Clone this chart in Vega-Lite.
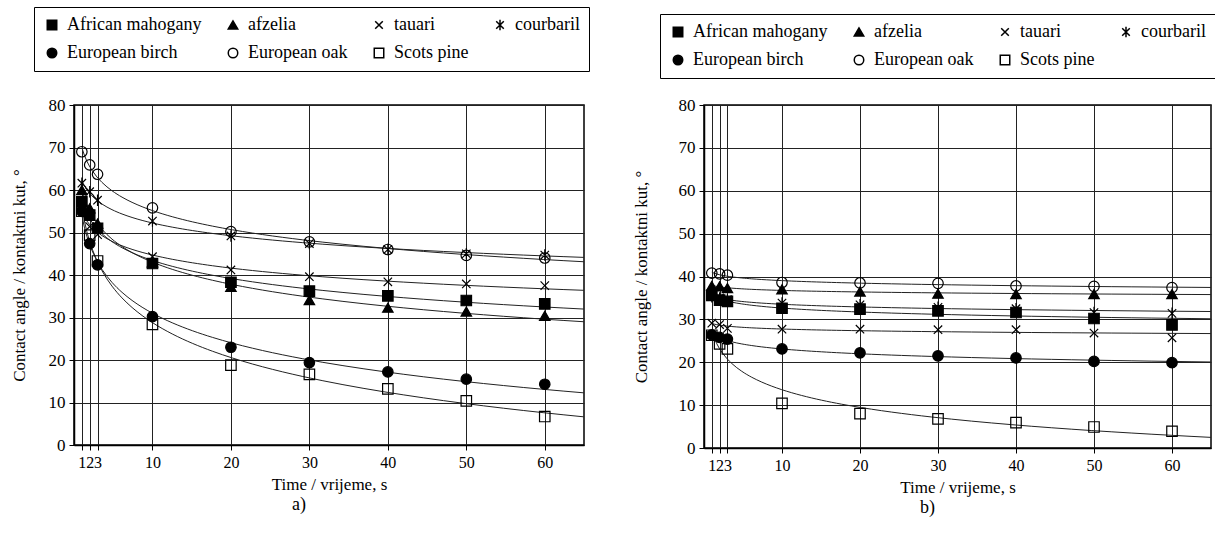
{
  "$schema": "https://vega.github.io/schema/vega-lite/v6.json",
  "padding": {"left": 9, "top": 5, "right": 2, "bottom": 5},
  "background": "white",
  "spacing": 40,
  "resolve": {"scale": {"shape": "independent", "fill": "independent"}, "legend": {"shape": "independent", "fill": "independent"}},
  "datasets": {
    "d": [
      {"panel": "a", "series": "African mahogany", "t": 1, "angle": 57.2},
      {"panel": "a", "series": "African mahogany", "t": 2, "angle": 54.1},
      {"panel": "a", "series": "African mahogany", "t": 3, "angle": 51.0},
      {"panel": "a", "series": "African mahogany", "t": 10, "angle": 42.7},
      {"panel": "a", "series": "African mahogany", "t": 20, "angle": 38.3},
      {"panel": "a", "series": "African mahogany", "t": 30, "angle": 36.2},
      {"panel": "a", "series": "African mahogany", "t": 40, "angle": 35.1},
      {"panel": "a", "series": "African mahogany", "t": 50, "angle": 34.0},
      {"panel": "a", "series": "African mahogany", "t": 60, "angle": 33.2},
      {"panel": "a", "series": "afzelia", "t": 1, "angle": 60.0},
      {"panel": "a", "series": "afzelia", "t": 2, "angle": 55.7},
      {"panel": "a", "series": "afzelia", "t": 3, "angle": 52.1},
      {"panel": "a", "series": "afzelia", "t": 10, "angle": 43.0},
      {"panel": "a", "series": "afzelia", "t": 20, "angle": 37.2},
      {"panel": "a", "series": "afzelia", "t": 30, "angle": 34.1},
      {"panel": "a", "series": "afzelia", "t": 40, "angle": 32.3},
      {"panel": "a", "series": "afzelia", "t": 50, "angle": 31.4},
      {"panel": "a", "series": "afzelia", "t": 60, "angle": 30.4},
      {"panel": "a", "series": "tauari", "t": 1, "angle": 56.0},
      {"panel": "a", "series": "tauari", "t": 2, "angle": 51.4},
      {"panel": "a", "series": "tauari", "t": 3, "angle": 49.5},
      {"panel": "a", "series": "tauari", "t": 10, "angle": 44.3},
      {"panel": "a", "series": "tauari", "t": 20, "angle": 41.2},
      {"panel": "a", "series": "tauari", "t": 30, "angle": 39.6},
      {"panel": "a", "series": "tauari", "t": 40, "angle": 38.4},
      {"panel": "a", "series": "tauari", "t": 50, "angle": 37.9},
      {"panel": "a", "series": "tauari", "t": 60, "angle": 37.5},
      {"panel": "a", "series": "courbaril", "t": 1, "angle": 61.6},
      {"panel": "a", "series": "courbaril", "t": 2, "angle": 59.6},
      {"panel": "a", "series": "courbaril", "t": 3, "angle": 57.6},
      {"panel": "a", "series": "courbaril", "t": 10, "angle": 52.7},
      {"panel": "a", "series": "courbaril", "t": 20, "angle": 49.2},
      {"panel": "a", "series": "courbaril", "t": 30, "angle": 47.4},
      {"panel": "a", "series": "courbaril", "t": 40, "angle": 46.0},
      {"panel": "a", "series": "courbaril", "t": 50, "angle": 45.0},
      {"panel": "a", "series": "courbaril", "t": 60, "angle": 44.7},
      {"panel": "a", "series": "European birch", "t": 1, "angle": 55.0},
      {"panel": "a", "series": "European birch", "t": 2, "angle": 47.4},
      {"panel": "a", "series": "European birch", "t": 3, "angle": 42.4},
      {"panel": "a", "series": "European birch", "t": 10, "angle": 30.2},
      {"panel": "a", "series": "European birch", "t": 20, "angle": 23.0},
      {"panel": "a", "series": "European birch", "t": 30, "angle": 19.4},
      {"panel": "a", "series": "European birch", "t": 40, "angle": 17.2},
      {"panel": "a", "series": "European birch", "t": 50, "angle": 15.5},
      {"panel": "a", "series": "European birch", "t": 60, "angle": 14.3},
      {"panel": "a", "series": "European oak", "t": 1, "angle": 69.0},
      {"panel": "a", "series": "European oak", "t": 2, "angle": 65.9},
      {"panel": "a", "series": "European oak", "t": 3, "angle": 63.7},
      {"panel": "a", "series": "European oak", "t": 10, "angle": 55.8},
      {"panel": "a", "series": "European oak", "t": 20, "angle": 50.2},
      {"panel": "a", "series": "European oak", "t": 30, "angle": 47.8},
      {"panel": "a", "series": "European oak", "t": 40, "angle": 46.0},
      {"panel": "a", "series": "European oak", "t": 50, "angle": 44.6},
      {"panel": "a", "series": "European oak", "t": 60, "angle": 44.0},
      {"panel": "a", "series": "Scots pine", "t": 1, "angle": 55.0},
      {"panel": "a", "series": "Scots pine", "t": 2, "angle": 49.4},
      {"panel": "a", "series": "Scots pine", "t": 3, "angle": 43.3},
      {"panel": "a", "series": "Scots pine", "t": 10, "angle": 28.4},
      {"panel": "a", "series": "Scots pine", "t": 20, "angle": 18.8},
      {"panel": "a", "series": "Scots pine", "t": 30, "angle": 16.6},
      {"panel": "a", "series": "Scots pine", "t": 40, "angle": 13.2},
      {"panel": "a", "series": "Scots pine", "t": 50, "angle": 10.4},
      {"panel": "a", "series": "Scots pine", "t": 60, "angle": 6.7},
      {"panel": "b", "series": "African mahogany", "t": 1, "angle": 35.6},
      {"panel": "b", "series": "African mahogany", "t": 2, "angle": 34.5},
      {"panel": "b", "series": "African mahogany", "t": 3, "angle": 34.2},
      {"panel": "b", "series": "African mahogany", "t": 10, "angle": 32.6},
      {"panel": "b", "series": "African mahogany", "t": 20, "angle": 32.4},
      {"panel": "b", "series": "African mahogany", "t": 30, "angle": 32.0},
      {"panel": "b", "series": "African mahogany", "t": 40, "angle": 31.6},
      {"panel": "b", "series": "African mahogany", "t": 50, "angle": 30.2},
      {"panel": "b", "series": "African mahogany", "t": 60, "angle": 28.7},
      {"panel": "b", "series": "afzelia", "t": 1, "angle": 37.8},
      {"panel": "b", "series": "afzelia", "t": 2, "angle": 37.7},
      {"panel": "b", "series": "afzelia", "t": 3, "angle": 37.3},
      {"panel": "b", "series": "afzelia", "t": 10, "angle": 37.0},
      {"panel": "b", "series": "afzelia", "t": 20, "angle": 36.5},
      {"panel": "b", "series": "afzelia", "t": 30, "angle": 36.0},
      {"panel": "b", "series": "afzelia", "t": 40, "angle": 35.9},
      {"panel": "b", "series": "afzelia", "t": 50, "angle": 35.9},
      {"panel": "b", "series": "afzelia", "t": 60, "angle": 35.9},
      {"panel": "b", "series": "tauari", "t": 1, "angle": 29.1},
      {"panel": "b", "series": "tauari", "t": 2, "angle": 28.8},
      {"panel": "b", "series": "tauari", "t": 3, "angle": 27.9},
      {"panel": "b", "series": "tauari", "t": 10, "angle": 27.7},
      {"panel": "b", "series": "tauari", "t": 20, "angle": 27.7},
      {"panel": "b", "series": "tauari", "t": 30, "angle": 27.6},
      {"panel": "b", "series": "tauari", "t": 40, "angle": 27.6},
      {"panel": "b", "series": "tauari", "t": 50, "angle": 26.8},
      {"panel": "b", "series": "tauari", "t": 60, "angle": 25.7},
      {"panel": "b", "series": "courbaril", "t": 1, "angle": 35.3},
      {"panel": "b", "series": "courbaril", "t": 2, "angle": 35.0},
      {"panel": "b", "series": "courbaril", "t": 3, "angle": 34.6},
      {"panel": "b", "series": "courbaril", "t": 10, "angle": 33.8},
      {"panel": "b", "series": "courbaril", "t": 20, "angle": 33.4},
      {"panel": "b", "series": "courbaril", "t": 30, "angle": 32.8},
      {"panel": "b", "series": "courbaril", "t": 40, "angle": 32.5},
      {"panel": "b", "series": "courbaril", "t": 50, "angle": 31.6},
      {"panel": "b", "series": "courbaril", "t": 60, "angle": 31.4},
      {"panel": "b", "series": "European birch", "t": 1, "angle": 26.4},
      {"panel": "b", "series": "European birch", "t": 2, "angle": 25.8},
      {"panel": "b", "series": "European birch", "t": 3, "angle": 25.4},
      {"panel": "b", "series": "European birch", "t": 10, "angle": 23.1},
      {"panel": "b", "series": "European birch", "t": 20, "angle": 22.2},
      {"panel": "b", "series": "European birch", "t": 30, "angle": 21.5},
      {"panel": "b", "series": "European birch", "t": 40, "angle": 21.0},
      {"panel": "b", "series": "European birch", "t": 50, "angle": 20.2},
      {"panel": "b", "series": "European birch", "t": 60, "angle": 19.9},
      {"panel": "b", "series": "European oak", "t": 1, "angle": 40.8},
      {"panel": "b", "series": "European oak", "t": 2, "angle": 40.6},
      {"panel": "b", "series": "European oak", "t": 3, "angle": 40.3},
      {"panel": "b", "series": "European oak", "t": 10, "angle": 38.6},
      {"panel": "b", "series": "European oak", "t": 20, "angle": 38.5},
      {"panel": "b", "series": "European oak", "t": 30, "angle": 38.4},
      {"panel": "b", "series": "European oak", "t": 40, "angle": 37.8},
      {"panel": "b", "series": "European oak", "t": 50, "angle": 37.7},
      {"panel": "b", "series": "European oak", "t": 60, "angle": 37.4},
      {"panel": "b", "series": "Scots pine", "t": 1, "angle": 26.3},
      {"panel": "b", "series": "Scots pine", "t": 2, "angle": 24.3},
      {"panel": "b", "series": "Scots pine", "t": 3, "angle": 23.1},
      {"panel": "b", "series": "Scots pine", "t": 10, "angle": 10.4},
      {"panel": "b", "series": "Scots pine", "t": 20, "angle": 8.0},
      {"panel": "b", "series": "Scots pine", "t": 30, "angle": 6.8},
      {"panel": "b", "series": "Scots pine", "t": 40, "angle": 5.9},
      {"panel": "b", "series": "Scots pine", "t": 50, "angle": 4.9},
      {"panel": "b", "series": "Scots pine", "t": 60, "angle": 3.9}
    ]
  },
  "hconcat": [
    {
      "width": 510, "height": 340,
      "view": {"stroke": "black", "strokeWidth": 1.5},
      "data": {"name": "d"},
      "transform": [{"filter": "datum.panel == 'a'"}],
      "title": {"text": "a)", "orient": "bottom", "dx": -30, "offset": 4, "font": "Liberation Serif", "fontSize": 18, "fontWeight": "normal", "color": "black"},
      "layer": [
        {
          "transform": [{"regression": "angle", "on": "t", "groupby": ["series"], "method": "log", "extent": [1, 65]}],
          "mark": {"type": "line", "stroke": "#222", "strokeWidth": 1},
          "encoding": {
            "x": {"field": "t", "type": "quantitative", "scale": {"domain": [0, 65], "nice": false},
                  "axis": {"values": [1, 2, 3, 10, 20, 30, 40, 50, 60], "title": "Time / vrijeme, s", "titlePadding": 6,
                           "grid": true, "gridColor": "#222", "gridOpacity": 1, "gridWidth": 1, "domainColor": "black", "domainWidth": 1.5, "tickColor": "black", "tickSize": 5, "labelOverlap": false, "labelFlush": false, "labelPadding": 4,
                           "labelFont": "Liberation Serif", "labelFontSize": 16, "labelColor": "black", "titleFont": "Liberation Serif", "titleFontSize": 17, "titleColor": "black", "titleFontWeight": "normal",
                           "encode": {"labels": {"update": {"font": {"value": "Liberation Serif"}}}, "title": {"update": {"font": {"value": "Liberation Serif"}}}}}},
            "y": {"field": "angle", "type": "quantitative", "scale": {"domain": [0, 80], "nice": false},
                  "axis": {"values": [0, 10, 20, 30, 40, 50, 60, 70, 80], "title": "Contact angle / kontaktni kut, °", "titlePadding": 20,
                           "grid": true, "gridColor": "#222", "gridOpacity": 1, "gridWidth": 1, "domainColor": "black", "domainWidth": 1.5, "tickColor": "black", "tickSize": 5, "labelFlush": false, "labelPadding": 4,
                           "labelFont": "Liberation Serif", "labelFontSize": 17, "labelColor": "black", "titleFont": "Liberation Serif", "titleFontSize": 17, "titleColor": "black", "titleFontWeight": "normal",
                           "encode": {"labels": {"update": {"font": {"value": "Liberation Serif"}}}, "title": {"update": {"font": {"value": "Liberation Serif"}}}}}},
            "detail": {"field": "series"}
          }
        },
        {
          "mark": {"type": "point", "stroke": "black", "strokeWidth": 1.2, "size": 110, "opacity": 1},
          "encoding": {
            "x": {"field": "t", "type": "quantitative"},
            "y": {"field": "angle", "type": "quantitative"},
            "shape": {"field": "series", "type": "nominal",
              "scale": {"domain": ["African mahogany", "afzelia", "tauari", "courbaril", "European birch", "European oak", "Scots pine"],
                        "range": ["square", "triangle-up", "M-0.8,-0.8L0.8,0.8M-0.8,0.8L0.8,-0.8", "M-0.8,-0.8L0.8,0.8M-0.8,0.8L0.8,-0.8M0,-1.1L0,1.1", "circle", "circle", "square"]},
              "legend": {"orient": "none", "legendX": -40, "legendY": -98, "direction": "horizontal", "columns": 4, "gridAlign": "none", "strokeColor": "black", "padding": 9, "symbolSize": 90, "columnPadding": 22, "rowPadding": 10, "labelOffset": 6, "title": null,
                         "labelFont": "Liberation Serif", "labelFontSize": 18, "labelColor": "black", "labelLimit": 400,
                         "encode": {"symbols": {"update": {"stroke": {"value": "black"}, "strokeWidth": {"value": 1.2}}}, "labels": {"update": {"font": {"value": "Liberation Serif"}}}}}},
            "fill": {"field": "series", "type": "nominal",
              "scale": {"domain": ["African mahogany", "afzelia", "tauari", "courbaril", "European birch", "European oak", "Scots pine"],
                        "range": ["black", "black", "transparent", "transparent", "black", "transparent", "transparent"]},
              "legend": {"orient": "none", "legendX": -40, "legendY": -98, "direction": "horizontal", "columns": 4, "gridAlign": "none", "strokeColor": "black", "padding": 9, "symbolSize": 90, "columnPadding": 22, "rowPadding": 10, "labelOffset": 6, "title": null,
                         "labelFont": "Liberation Serif", "labelFontSize": 18, "labelColor": "black", "labelLimit": 400,
                         "encode": {"symbols": {"update": {"stroke": {"value": "black"}, "strokeWidth": {"value": 1.2}}}, "labels": {"update": {"font": {"value": "Liberation Serif"}}}}}}
          }
        }
      ]
    },
    {
      "width": 507, "height": 343,
      "view": {"stroke": "black", "strokeWidth": 1.5},
      "data": {"name": "d"},
      "transform": [{"filter": "datum.panel == 'b'"}],
      "title": {"text": "b)", "orient": "bottom", "dx": -30, "offset": 4, "font": "Liberation Serif", "fontSize": 18, "fontWeight": "normal", "color": "black"},
      "layer": [
        {
          "transform": [{"regression": "angle", "on": "t", "groupby": ["series"], "method": "log", "extent": [1, 65]}],
          "mark": {"type": "line", "stroke": "#222", "strokeWidth": 1},
          "encoding": {
            "x": {"field": "t", "type": "quantitative", "scale": {"domain": [0, 65], "nice": false},
                  "axis": {"values": [1, 2, 3, 10, 20, 30, 40, 50, 60], "title": "Time / vrijeme, s", "titlePadding": 6,
                           "grid": true, "gridColor": "#222", "gridOpacity": 1, "gridWidth": 1, "domainColor": "black", "domainWidth": 1.5, "tickColor": "black", "tickSize": 5, "labelOverlap": false, "labelFlush": false, "labelPadding": 4,
                           "labelFont": "Liberation Serif", "labelFontSize": 16, "labelColor": "black", "titleFont": "Liberation Serif", "titleFontSize": 17, "titleColor": "black", "titleFontWeight": "normal",
                           "encode": {"labels": {"update": {"font": {"value": "Liberation Serif"}}}, "title": {"update": {"font": {"value": "Liberation Serif"}}}}}},
            "y": {"field": "angle", "type": "quantitative", "scale": {"domain": [0, 80], "nice": false},
                  "axis": {"values": [0, 10, 20, 30, 40, 50, 60, 70, 80], "title": "Contact angle / kontaktni kut, °", "titlePadding": 28,
                           "grid": true, "gridColor": "#222", "gridOpacity": 1, "gridWidth": 1, "domainColor": "black", "domainWidth": 1.5, "tickColor": "black", "tickSize": 5, "labelFlush": false, "labelPadding": 4,
                           "labelFont": "Liberation Serif", "labelFontSize": 17, "labelColor": "black", "titleFont": "Liberation Serif", "titleFontSize": 17, "titleColor": "black", "titleFontWeight": "normal",
                           "encode": {"labels": {"update": {"font": {"value": "Liberation Serif"}}}, "title": {"update": {"font": {"value": "Liberation Serif"}}}}}},
            "detail": {"field": "series"}
          }
        },
        {
          "mark": {"type": "point", "stroke": "black", "strokeWidth": 1.2, "size": 110, "opacity": 1},
          "encoding": {
            "x": {"field": "t", "type": "quantitative"},
            "y": {"field": "angle", "type": "quantitative"},
            "shape": {"field": "series", "type": "nominal",
              "scale": {"domain": ["African mahogany", "afzelia", "tauari", "courbaril", "European birch", "European oak", "Scots pine"],
                        "range": ["square", "triangle-up", "M-0.8,-0.8L0.8,0.8M-0.8,0.8L0.8,-0.8", "M-0.8,-0.8L0.8,0.8M-0.8,0.8L0.8,-0.8M0,-1.1L0,1.1", "circle", "circle", "square"]},
              "legend": {"orient": "none", "legendX": -44, "legendY": -91, "direction": "horizontal", "columns": 4, "gridAlign": "none", "strokeColor": "black", "padding": 9, "symbolSize": 90, "columnPadding": 22, "rowPadding": 10, "labelOffset": 6, "title": null,
                         "labelFont": "Liberation Serif", "labelFontSize": 18, "labelColor": "black", "labelLimit": 400,
                         "encode": {"symbols": {"update": {"stroke": {"value": "black"}, "strokeWidth": {"value": 1.2}}}, "labels": {"update": {"font": {"value": "Liberation Serif"}}}}}},
            "fill": {"field": "series", "type": "nominal",
              "scale": {"domain": ["African mahogany", "afzelia", "tauari", "courbaril", "European birch", "European oak", "Scots pine"],
                        "range": ["black", "black", "transparent", "transparent", "black", "transparent", "transparent"]},
              "legend": {"orient": "none", "legendX": -44, "legendY": -91, "direction": "horizontal", "columns": 4, "gridAlign": "none", "strokeColor": "black", "padding": 9, "symbolSize": 90, "columnPadding": 22, "rowPadding": 10, "labelOffset": 6, "title": null,
                         "labelFont": "Liberation Serif", "labelFontSize": 18, "labelColor": "black", "labelLimit": 400,
                         "encode": {"symbols": {"update": {"stroke": {"value": "black"}, "strokeWidth": {"value": 1.2}}}, "labels": {"update": {"font": {"value": "Liberation Serif"}}}}}}
          }
        }
      ]
    }
  ]
}
